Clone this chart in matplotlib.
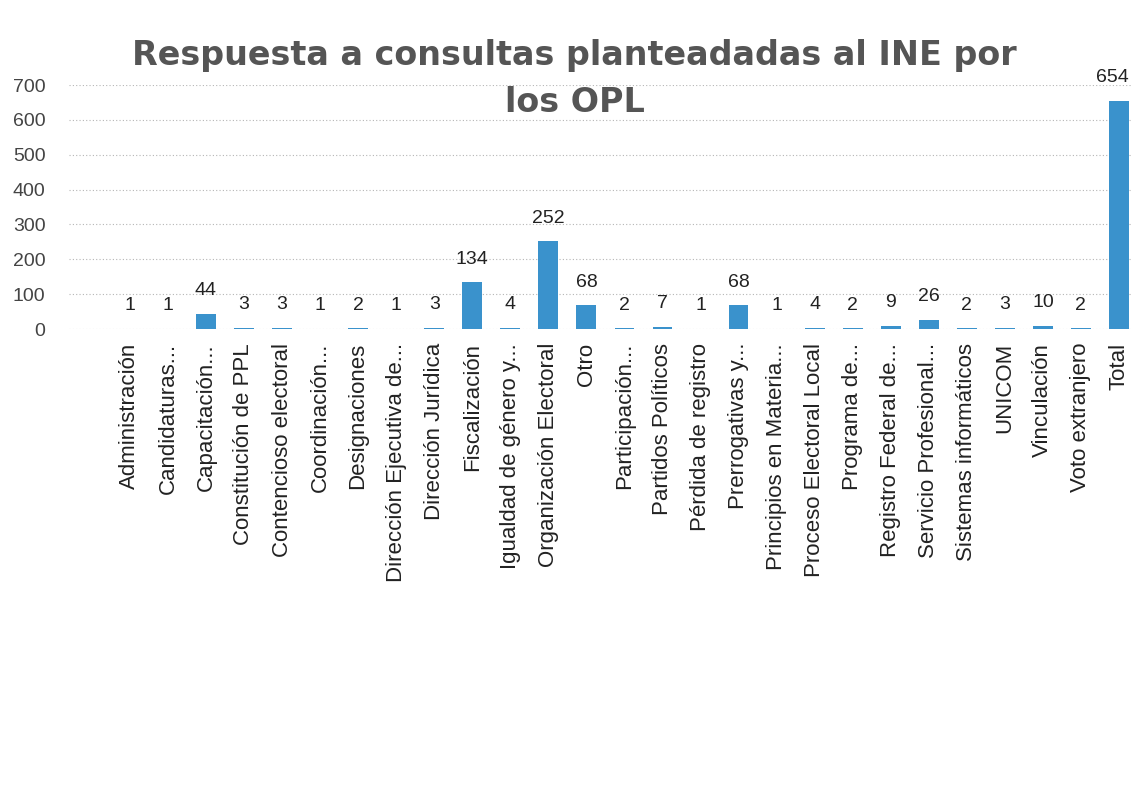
import matplotlib.pyplot as plt

categorias = ["Administración", "Candidaturas...", "Capacitación...", "Constitución de PPL",
              "Contencioso electoral", "Coordinación...", "Designaciones",
              "Dirección Ejecutiva de...", "Dirección Jurídica", "Fiscalización",
              "Igualdad de género y...", "Organización Electoral", "Otro", "Participación...",
              "Partidos Políticos", "Pérdida de registro", "Prerrogativas y...",
              "Principios en Materia...", "Proceso Electoral Local", "Programa de...",
              "Registro Federal de...", "Servicio Profesional...", "Sistemas informáticos",
              "UNICOM", "Vinculación", "Voto extranjero", "Total"]
valores = [1, 1, 44, 3, 3, 1, 2, 1, 3, 134, 4, 252, 68, 2, 7, 1, 68, 1, 4, 2, 9, 26, 2, 3, 10, 2, 654]
yticks = [0, 100, 200, 300, 400, 500, 600, 700]

plt.rcParams['font.family'] = ['Liberation Sans', 'DejaVu Sans']

fig = plt.figure(figsize=(11.31, 7.95), dpi=100)
# plot area in pixels: x 69..1138, y 85..329
ax = fig.add_axes([69 / 1131, 1 - 329 / 795, (1138 - 69) / 1131, (329 - 85) / 795])

x = list(range(len(categorias)))
ax.bar(x, valores, width=0.52, color='#3a92cc', zorder=3)

for xi, v in zip(x, valores):
    dx = -5 if xi == len(x) - 1 else 0   # keep the last label inside the picture
    ax.annotate(str(v), (xi, v), xytext=(dx, 10.5), textcoords='offset points',
                ha='center', va='bottom', fontsize=14, color='#222222')

ax.set_xlim(-1.6, 26.5)
ax.set_ylim(0, 700)
ax.set_yticks(yticks)
ax.set_xticks(x)
ax.set_xticklabels(categorias, rotation=90, fontsize=16, color='#222222')
ax.tick_params(axis='y', labelsize=14, labelcolor='#444444', length=0, pad=17)
ax.tick_params(axis='x', length=0, pad=10)

ax.grid(axis='y', linestyle=(0, (1, 2)), color='#b5b5b5', linewidth=0.8, zorder=0)
for s in ax.spines.values():
    s.set_visible(False)

fig.text(0.508, 1 - 55 / 795, "Respuesta a consultas planteadadas al INE por",
         ha='center', va='center', fontsize=24, fontweight='bold', color='#555555',
         family=['DejaVu Sans'])
fig.text(0.508, 1 - 103 / 795, "los OPL",
         ha='center', va='center', fontsize=24, fontweight='bold', color='#555555',
         family=['DejaVu Sans'])

fig.savefig('out.png', dpi=100, facecolor='white')
